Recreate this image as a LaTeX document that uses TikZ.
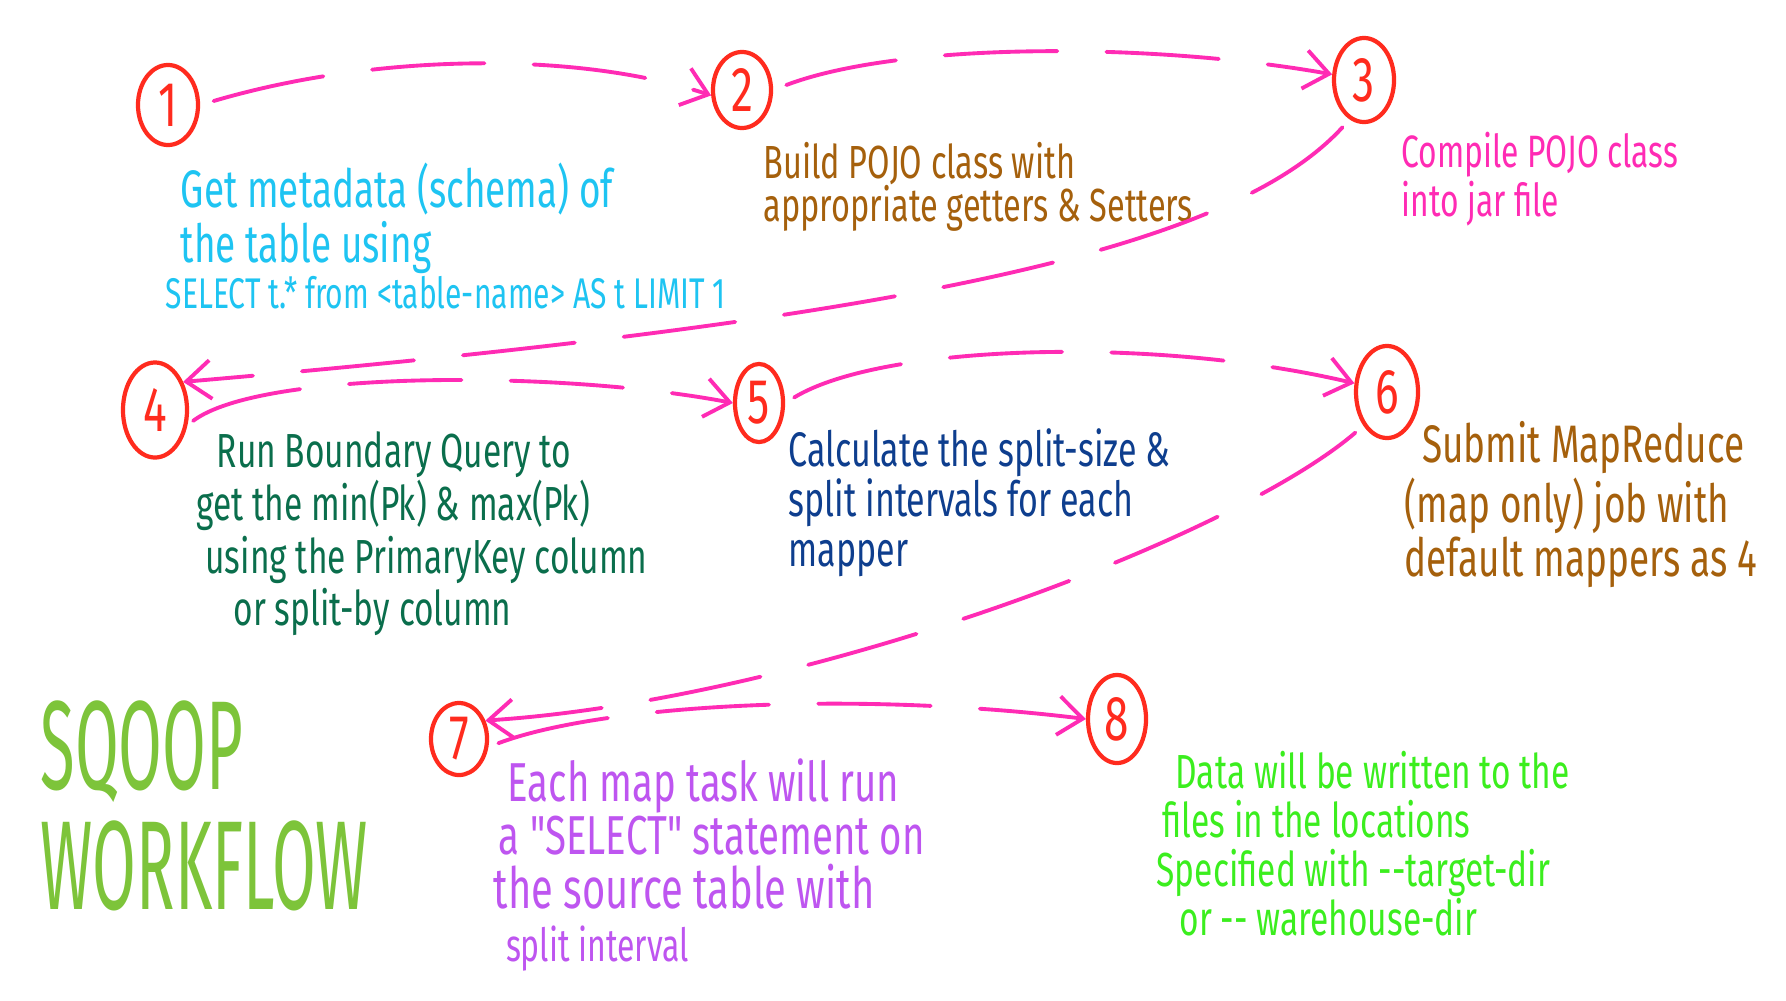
\documentclass[tikz,border=0pt]{standalone}
\usepackage{fontspec}
\newfontfamily\handfont[FakeStretch=0.7]{Fira Sans}
\newfontfamily\titlefont[FakeStretch=0.5]{Fira Sans}
\usepackage{xcolor}
\usetikzlibrary{arrows.meta,shapes.geometric}
\definecolor{flowPink}{HTML}{FF2BB4}
\definecolor{stepRed}{HTML}{FF2B1E}
\definecolor{metaCyan}{HTML}{1EC4F2}
\definecolor{pojoBrown}{HTML}{A5600C}
\definecolor{queryGreen}{HTML}{0A6E4C}
\definecolor{splitBlue}{HTML}{0E3E8E}
\definecolor{taskPurple}{HTML}{BE55F0}
\definecolor{dataGreen}{HTML}{3BEE1E}
\definecolor{titleGreen}{HTML}{7DC43A}

\begin{document}
\begin{tikzpicture}[x=0.01cm, y=-0.01cm,
    stepCircle/.style={ellipse, draw=stepRed, line width=1.2pt, inner sep=0pt, text=stepRed, font=\handfont\fontsize{18}{18}\selectfont},
    noteStyle/.style={anchor=north west, align=left, inner sep=0pt},
    flowStyle/.style={draw=flowPink, line width=1.1pt, line cap=round, dash pattern=on 32pt off 14pt, -{Straight Barb[length=7pt,width=11pt]}}
]
    \path[use as bounding box, fill=white] (0,0) rectangle (1786,1000);

    % numbered steps
    \node[stepCircle, minimum width=0.6cm, minimum height=0.8cm] (c1) at (168,105) {1};
    \node[stepCircle, minimum width=0.58cm, minimum height=0.76cm] (c2) at (742,90) {2};
    \node[stepCircle, minimum width=0.6cm, minimum height=0.84cm] (c3) at (1364,80) {3};
    \node[stepCircle, minimum width=0.64cm, minimum height=0.95cm] (c4) at (155,410) {4};
    \node[stepCircle, minimum width=0.48cm, minimum height=0.78cm] (c5) at (759,403) {5};
    \node[stepCircle, minimum width=0.62cm, minimum height=0.92cm] (c6) at (1387,392) {6};
    \node[stepCircle, minimum width=0.56cm, minimum height=0.72cm] (c7) at (459,739) {7};
    \node[stepCircle, minimum width=0.58cm, minimum height=0.88cm] (c8) at (1117,719) {8};

    % notes
    \node[noteStyle, text=metaCyan, font=\handfont\fontsize{15}{15.6}\selectfont] (t1) at (180,162) {Get metadata (schema) of\\the table using};
    \node[noteStyle, text=metaCyan, font=\handfont\fontsize{12.2}{12}\selectfont] (t1sql) at (165,276) {SELECT t.* from <table-name> AS t LIMIT 1};
    \node[noteStyle, text=pojoBrown, font=\handfont\fontsize{13.2}{12.2}\selectfont] (t2) at (763,142) {Build POJO class with\\appropriate getters \& Setters};
    \node[noteStyle, text=flowPink, font=\handfont\fontsize{12.9}{14}\selectfont] (t3) at (1401,131) {Compile POJO class\\into jar file};
    \node[noteStyle, text=queryGreen, font=\handfont\fontsize{13.6}{15}\selectfont] (t4) at (196,431) {\hspace*{5.7pt}Run Boundary Query to\\get the min(Pk) \& max(Pk)\\\hspace*{2.5pt}using the PrimaryKey column\\\hspace*{10.5pt}or split-by column};
    \node[noteStyle, text=splitBlue, font=\handfont\fontsize{13.8}{14.2}\selectfont] (t5) at (788,428) {Calculate the split-size \&\\split intervals for each\\mapper};
    \node[noteStyle, text=pojoBrown, font=\handfont\fontsize{15}{15.4}\selectfont] (t6) at (1404,421) {\hspace*{5pt}Submit MapReduce\\(map only) job with\\default mappers as 4};
    \node[noteStyle, text=taskPurple, font=\handfont\fontsize{15.6}{15.2}\selectfont] (t7) at (493,758) {\hspace*{4pt}Each map task will run\\\hspace*{1.5pt}a "SELECT" statement on\\\fontsize{16.2}{15.2}\selectfont the source table with\\\hspace*{3.5pt}{\fontsize{13}{14}\selectfont split interval}};
    \node[noteStyle, text=dataGreen, font=\handfont\fontsize{13.6}{14}\selectfont] (t8) at (1156,750) {\hspace*{5.4pt}Data will be written to the\\\hspace*{1.7pt}files in the locations\\Specified with -{}-target-dir\\\hspace*{6.5pt}or -{}- warehouse-dir};

    \node[noteStyle, text=titleGreen, font=\titlefont\fontsize{36}{34}\selectfont] (title) at (40,700) {SQOOP\\WORKFLOW};

    % flow between steps
    \draw[flowStyle, shorten <=4pt] (c1.east) .. controls (380,52) and (580,52) .. (c2.190);
    \draw[flowStyle, shorten <=4pt] (c2.east) .. controls (900,42) and (1150,42) .. (c3.170);
    \draw[flowStyle, shorten <=3pt] (c3.250) .. controls (1230,250) and (900,320) .. (c4.45);
    \draw[flowStyle, shorten <=2pt] (c4.-25) .. controls (260,370) and (560,370) .. (c5.west);
    \draw[flowStyle, shorten <=3pt] (c5.east) .. controls (880,345) and (1150,335) .. (c6.165);
    \draw[flowStyle, shorten <=3pt] (c6.235) .. controls (1230,540) and (800,700) .. (c7.35);
    \draw[flowStyle, shorten <=3pt] (c7.-15) .. controls (600,705) and (850,690) .. (c8.west);
\end{tikzpicture}
\end{document}
